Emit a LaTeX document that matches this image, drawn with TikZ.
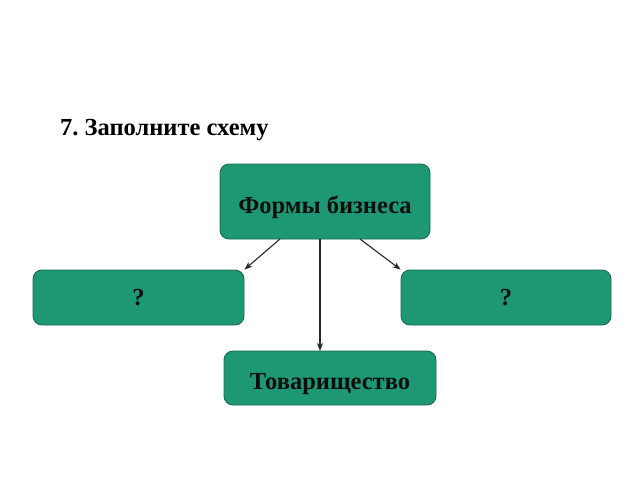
\documentclass[tikz,border=0pt]{standalone}
\usepackage{fontspec}
\setmainfont{Liberation Serif}
\usetikzlibrary{arrows.meta,calc}
\definecolor{boxfill}{RGB}{30,152,115}
\definecolor{boxedge}{RGB}{25,105,80}
\begin{document}
\frenchspacing
\begin{tikzpicture}[x=1pt,y=-1pt,
  box/.style={draw=boxedge,line width=0.9pt,fill=boxfill,rounded corners=9pt,
    inner sep=0pt,font=\bfseries\fontsize{24.5}{28}\selectfont,text=black!95,
    text height=16pt,text depth=0pt},
  conn/.style={draw=black!85,line width=1.1pt,-{Stealth[length=8pt,width=6pt]}}]
\useasboundingbox (0,0) rectangle (640,480);
\node[anchor=base west,inner sep=0pt,font=\bfseries\fontsize{24.5}{28}\selectfont] (title) at (60,135) {7. Заполните схему};
\node[box,minimum width=210pt,minimum height=75pt,text height=24pt] (top) at (325,201.5) {Формы бизнеса};
\node[box,minimum width=211pt,minimum height=55pt] (left) at (138.5,297.5) {?};
\node[box,minimum width=210pt,minimum height=55pt] (right) at (506,297.5) {?};
\node[box,minimum width=212pt,minimum height=54pt,text height=22pt] (bottom) at (330,378) {Товарищество};
\coordinate (sl) at (280,239);
\coordinate (sm) at (320,239);
\coordinate (sr) at (360,239);
\coordinate (em) at (320,351);
\draw[conn] (sl) -- (left.north east);
\draw[conn] (sm) -- (em);
\draw[conn] (sr) -- (right.north west);
\end{tikzpicture}
\end{document}
